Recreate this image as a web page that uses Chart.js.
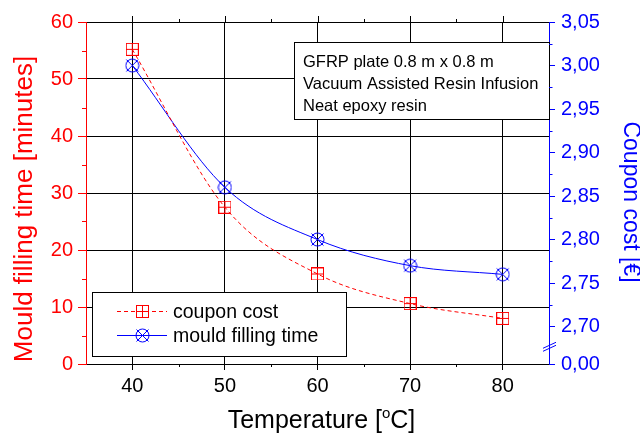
<!DOCTYPE html>
<html>
<head>
<meta charset="utf-8">
<script src="https://cdn.jsdelivr.net/npm/chart.js@4/dist/chart.umd.min.js"></script>
<style>
  body { margin: 0; background: #fff; }
  #wrap { width: 640px; height: 434px; }
</style>
</head>
<body>
<div id="wrap"><canvas id="grafico" width="640" height="434"></canvas></div>
<script>
// ================= DADOS ==================
const temps = [40, 50, 60, 70, 80];
const fillTime = [55.2, 27.5, 15.8, 10.6, 8.0];      // eixo esquerdo (vermelho)
const couponCost = [3.00, 2.86, 2.80, 2.77, 2.76];   // eixo direito (azul)

const xTicks = [40, 50, 60, 70, 80];
const leftTicks = [0, 10, 20, 30, 40, 50, 60];
const rightTicks = [0.00, 2.70, 2.75, 2.80, 2.85, 2.90, 2.95, 3.00, 3.05];

const seriesLabels = ["coupon cost", "mould filling time"];
const infoLines = ["GFRP plate 0.8 m x 0.8 m", "Vacuum Assisted Resin Infusion", "Neat epoxy resin"];

const FONT = "'Liberation Sans', Arial, sans-serif";
const RED = "#ff0000";
const BLUE = "#0000ff";

// eixo direito quebrado: 0,00 fica logo abaixo de 2,70
const GAP = 0.86;
function toAxis(v) {
  return v === 0 ? 0 : GAP + (v - rightTicks[1]) / 0.05;
}

// ================= MARCADORES ==================
function squarePlus(color) {
  const c = document.createElement("canvas");
  c.width = 13; c.height = 13;
  const g = c.getContext("2d");
  g.strokeStyle = color; g.lineWidth = 1;
  g.strokeRect(0.5, 0.5, 12, 12);
  g.beginPath();
  g.moveTo(6.5, 0.5); g.lineTo(6.5, 12.5);
  g.moveTo(0.5, 6.5); g.lineTo(12.5, 6.5);
  g.stroke();
  return c;
}

function circleCross(color) {
  const c = document.createElement("canvas");
  c.width = 15; c.height = 15;
  const g = c.getContext("2d");
  g.strokeStyle = color; g.lineWidth = 1;
  g.beginPath(); g.arc(7.5, 7.5, 6.5, 0, Math.PI * 2); g.stroke();
  g.beginPath();
  g.moveTo(1.5, 1.5); g.lineTo(13.5, 13.5);
  g.moveTo(13.5, 1.5); g.lineTo(1.5, 13.5);
  g.stroke();
  return c;
}

const redMark = squarePlus(RED);
const blueMark = circleCross(BLUE);

// ================= DECORAÇÃO ==================
function line(ctx, x1, y1, x2, y2) {
  ctx.beginPath(); ctx.moveTo(x1, y1); ctx.lineTo(x2, y2); ctx.stroke();
}

const decor = {
  id: "decor",
  afterDatasetsDraw(chart) {
    const ctx = chart.ctx;
    ctx.save();
    ctx.lineWidth = 1;
    ctx.strokeStyle = "#000";
    ctx.fillStyle = "#fff";

    // caixa de texto
    ctx.fillRect(294.5, 42.5, 255, 77);
    ctx.strokeRect(294.5, 42.5, 255, 77);
    ctx.fillStyle = "#000";
    ctx.font = "16.5px " + FONT;
    ctx.textBaseline = "alphabetic";
    infoLines.forEach((t, i) => ctx.fillText(t, 303, 67 + i * 22));

    // legenda
    ctx.fillStyle = "#fff";
    ctx.fillRect(92.5, 292.5, 254, 64);
    ctx.strokeRect(92.5, 292.5, 254, 64);
    const rows = [
      { y: 311.5, color: RED, dash: [4, 3], mark: redMark, label: seriesLabels[0] },
      { y: 335.5, color: BLUE, dash: [], mark: blueMark, label: seriesLabels[1] }
    ];
    ctx.font = "19.5px " + FONT;
    ctx.textBaseline = "middle";
    rows.forEach(r => {
      ctx.strokeStyle = r.color;
      ctx.setLineDash(r.dash);
      line(ctx, 117, r.y, 167, r.y);
      ctx.setLineDash([]);
      ctx.drawImage(r.mark, Math.round(142 - r.mark.width / 2), Math.round(r.y - r.mark.height / 2));
      ctx.fillStyle = "#000";
      ctx.fillText(r.label, 173, r.y + 1);
    });
    ctx.restore();
  },
  afterDraw(chart) {
    const ctx = chart.ctx;
    const a = chart.chartArea;
    const sx = chart.scales.x, sy = chart.scales.y, sy2 = chart.scales.y2;
    ctx.save();
    ctx.lineWidth = 1;

    // ticks menores esquerda
    ctx.strokeStyle = RED;
    for (let i = 0; i < leftTicks.length - 1; i++) {
      const y = Math.round(sy.getPixelForValue((leftTicks[i] + leftTicks[i + 1]) / 2)) + 0.5;
      line(ctx, a.left - 4, y, a.left, y);
    }

    // ticks eixo x (baixo e topo)
    ctx.strokeStyle = "#000";
    for (let i = 0; i < xTicks.length - 1; i++) {
      const x = Math.round(sx.getPixelForValue((xTicks[i] + xTicks[i + 1]) / 2)) + 0.5;
      line(ctx, x, a.bottom, x, a.bottom + 3);
      line(ctx, x, a.top, x, a.top - 3);
    }
    xTicks.forEach(v => {
      const x = Math.round(sx.getPixelForValue(v)) + 0.5;
      line(ctx, x, a.top, x, a.top - 6);
    });

    // ticks menores direita
    ctx.strokeStyle = BLUE;
    for (let i = 1; i < rightTicks.length - 1; i++) {
      const y = Math.round(sy2.getPixelForValue((toAxis(rightTicks[i]) + toAxis(rightTicks[i + 1])) / 2)) + 0.5;
      line(ctx, a.right, y, a.right + 3.5, y);
    }
    // quebra do eixo
    const yb = (sy2.getPixelForValue(0) + sy2.getPixelForValue(toAxis(rightTicks[1]))) / 2;
    line(ctx, a.right - 6, yb + 3, a.right + 7, yb - 3);
    line(ctx, a.right - 6, yb + 6, a.right + 7, yb);

    // títulos dos eixos
    ctx.textAlign = "center";
    ctx.textBaseline = "middle";
    ctx.save();
    ctx.translate(25, 209);
    ctx.rotate(-Math.PI / 2);
    ctx.fillStyle = RED;
    ctx.font = "26px " + FONT;
    ctx.fillText("Mould filling time [minutes]", 0, 0);
    ctx.restore();

    ctx.save();
    ctx.translate(630, 202);
    ctx.rotate(Math.PI / 2);
    ctx.fillStyle = BLUE;
    ctx.font = "23px " + FONT;
    ctx.fillText("Coupon cost [\u20AC]", 0, 0);
    ctx.restore();

    // título x com "o" sobrescrito
    ctx.fillStyle = "#000";
    ctx.textAlign = "left";
    ctx.textBaseline = "alphabetic";
    const big = "25px " + FONT, small = "15px " + FONT;
    const p1 = "Temperature [", p2 = "o", p3 = "C]";
    ctx.font = big; const w1 = ctx.measureText(p1).width, w3 = ctx.measureText(p3).width;
    ctx.font = small; const w2 = ctx.measureText(p2).width;
    let x0 = 321.5 - (w1 + w2 + w3) / 2;
    ctx.font = big; ctx.fillText(p1, x0, 428);
    ctx.font = small; ctx.fillText(p2, x0 + w1, 418);
    ctx.font = big; ctx.fillText(p3, x0 + w1 + w2, 428);
    ctx.restore();
  }
};

// ================= GRÁFICO ==================
const ctx = document.getElementById("grafico").getContext("2d");

new Chart(ctx, {
  type: "line",
  data: {
    datasets: [
      {
        label: seriesLabels[0],
        data: temps.map((t, i) => ({ x: t, y: fillTime[i] })),
        yAxisID: "y",
        borderColor: RED,
        borderWidth: 1,
        borderDash: [4, 3],
        cubicInterpolationMode: "monotone",
        pointStyle: redMark,
        pointRadius: 6,
        fill: false
      },
      {
        label: seriesLabels[1],
        data: temps.map((t, i) => ({ x: t, y: toAxis(couponCost[i]) })),
        yAxisID: "y2",
        borderColor: BLUE,
        borderWidth: 1,
        cubicInterpolationMode: "monotone",
        pointStyle: blueMark,
        pointRadius: 7,
        fill: false
      }
    ]
  },
  options: {
    responsive: false,
    animation: false,
    devicePixelRatio: 1,
    layout: { padding: { top: 22, left: 0, right: 0, bottom: 0 } },
    plugins: { legend: { display: false }, tooltip: { enabled: false } },
    scales: {
      x: {
        type: "linear",
        min: 35,
        max: 85,
        afterBuildTicks: s => { s.ticks = xTicks.map(v => ({ value: v })); },
        afterFit: s => { s.height = 70; },
        border: { color: "#000", width: 1 },
        grid: { color: "#000", lineWidth: 1, tickColor: "#000", tickLength: 6 },
        ticks: { color: "#000", font: { family: FONT, size: 20 }, padding: 4, maxRotation: 0 }
      },
      y: {
        position: "left",
        min: 0,
        max: 60,
        afterBuildTicks: s => { s.ticks = leftTicks.map(v => ({ value: v })); },
        afterFit: s => { s.width = 86; },
        border: { color: RED, width: 1 },
        grid: { color: "#000", lineWidth: 1, tickColor: RED, tickLength: 8 },
        ticks: { color: RED, font: { family: FONT, size: 20 }, padding: 5 }
      },
      y2: {
        position: "right",
        min: 0,
        max: toAxis(rightTicks[rightTicks.length - 1]),
        afterBuildTicks: s => { s.ticks = rightTicks.map(v => ({ value: toAxis(v) })); },
        afterFit: s => { s.width = 91; },
        border: { color: BLUE, width: 1 },
        grid: { drawOnChartArea: false, tickColor: BLUE, tickLength: 6 },
        ticks: {
          color: BLUE,
          font: { family: FONT, size: 20 },
          padding: 6,
          callback: (value, index) => rightTicks[index].toFixed(2).replace(".", ",")
        }
      }
    }
  },
  plugins: [decor]
});
</script>
</body>
</html>
